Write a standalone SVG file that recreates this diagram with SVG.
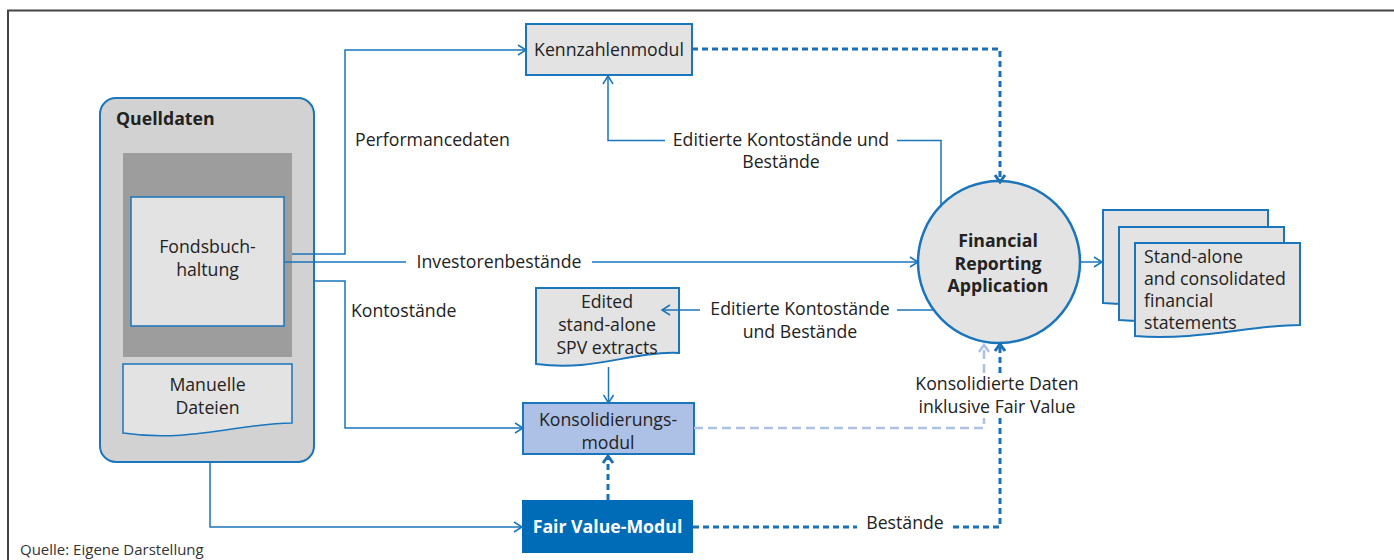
<svg xmlns="http://www.w3.org/2000/svg" width="1394" height="560" viewBox="0 0 1394 560">
<style>
text{font-family:"Open Sans","Liberation Sans",sans-serif;font-size:17.7px;fill:#222}
.b{font-weight:bold}
.c{text-anchor:middle}
.box{fill:#e3e3e3;stroke:#1a75bb;stroke-width:2}
.ln{fill:none;stroke:#1a75bb;stroke-width:1.5}
.dot{fill:none;stroke:#1a6fb5;stroke-width:3;stroke-dasharray:6 4}
.lt{fill:none;stroke:#adc1e6;stroke-width:2.5;stroke-dasharray:9 5}
.mk{fill:none;stroke-dasharray:none;stroke-linejoin:miter}
</style>
<defs>
<marker id="a" markerUnits="userSpaceOnUse" markerWidth="12" markerHeight="12" refX="10" refY="6" orient="auto"><path class="mk" d="M2,1 L10,6 L2,11" stroke="#1a75bb" stroke-width="1.5"/></marker>
<marker id="ad" markerUnits="userSpaceOnUse" markerWidth="14" markerHeight="14" refX="10" refY="7" orient="auto"><path class="mk" d="M3,2 L10,7 L3,12" stroke="#1a6fb5" stroke-width="3"/></marker>
<marker id="al" markerUnits="userSpaceOnUse" markerWidth="14" markerHeight="14" refX="10" refY="7" orient="auto"><path class="mk" d="M3,2 L10,7 L3,12" stroke="#adc1e6" stroke-width="2.5"/></marker>
</defs>
<rect width="1394" height="560" fill="#fff"/>
<g id="frame" stroke="#444" stroke-width="2" fill="none"><path d="M8,560 V10.5 H1394"/></g>

<g id="labels">
<text x="355" y="146">Performancedaten</text>
<text x="351" y="317">Kontostände</text>
<text x="499" y="268" class="c">Investorenbestände</text>
<text x="781" y="146" class="c">Editierte Kontostände und</text>
<text x="781" y="168" class="c">Bestände</text>
<text x="800" y="315" class="c">Editierte Kontostände</text>
<text x="800" y="338" class="c">und Bestände</text>
<text x="997" y="390" class="c">Konsolidierte Daten</text>
<text x="997" y="413" class="c">inklusive Fair Value</text>
<text x="905" y="529" class="c">Bestände</text>
<text x="20" y="555" style="font-size:15px;fill:#333">Quelle: Eigene Darstellung</text>
</g>

<g id="quelldaten">
<rect x="100" y="98" width="214" height="364" rx="16" fill="#d2d2d2" stroke="#1a75bb" stroke-width="2"/>
<text x="116" y="125" class="b">Quelldaten</text>
<rect x="123" y="153" width="169" height="204" fill="#9d9d9d"/>
</g>
<g id="fondsbuchhaltung">
<rect class="box" x="131" y="197" width="153" height="129" style="stroke-width:1.5"/>
<text x="207.5" y="253" class="c">Fondsbuch-</text>
<text x="207.5" y="276" class="c">haltung</text>
</g>
<g id="manuelle">
<path class="box" style="stroke-width:1.5" d="M123,364 H292 V423 C240,423 190,443 123,433 Z"/>
<text x="207.5" y="391" class="c">Manuelle</text>
<text x="207.5" y="414" class="c">Dateien</text>
</g>
<g id="kennzahlenmodul">
<rect class="box" x="526" y="24" width="166" height="51"/>
<text x="609" y="56" class="c">Kennzahlenmodul</text>
</g>
<g id="edited">
<path class="box" d="M536,288 H679 V353 C630,351 595,372 536,364 Z"/>
<text x="607" y="308" class="c">Edited</text>
<text x="607" y="331" class="c">stand-alone</text>
<text x="607" y="354" class="c">SPV extracts</text>
</g>
<g id="konsolidierungsmodul">
<rect x="523" y="403" width="171" height="51" fill="#adc1e6" stroke="#1a75bb" stroke-width="2"/>
<text x="608" y="426" class="c">Konsolidierungs-</text>
<text x="608" y="449" class="c">modul</text>
</g>
<g id="fairvalue">
<rect x="522" y="500" width="171" height="53" fill="#006cb7"/>
<text x="607.5" y="533" class="c b" style="fill:#fff">Fair Value-Modul</text>
</g>
<g id="fra">
<circle cx="999" cy="262" r="81" fill="#e3e3e3" stroke="#1a75bb" stroke-width="2.5"/>
<text x="998" y="247" class="c b">Financial</text>
<text x="998" y="270" class="c b">Reporting</text>
<text x="998" y="292" class="c b">Application</text>
</g>
<g id="statements">
<path class="box" d="M1103,210 H1268 V292 C1220,292 1165,308 1103,303 Z"/>
<path class="box" d="M1119,227 H1284 V309 C1236,309 1181,325 1119,320 Z"/>
<path class="box" d="M1135,243 H1300 V325 C1252,325 1197,341 1135,336 Z"/>
<text x="1144" y="263">Stand-alone</text>
<text x="1144" y="285">and consolidated</text>
<text x="1144" y="307">financial</text>
<text x="1144" y="329">statements</text>
</g>

<g id="connectors">
<path class="ln" d="M292,254 H345 V50 H526" marker-end="url(#a)"/>
<path class="ln" d="M284,262 H406"/>
<path class="ln" d="M592,262 H918" marker-end="url(#a)"/>
<path class="ln" d="M315,281 H345 V428 H523" marker-end="url(#a)"/>
<path class="ln" d="M210,463 V527 H522" marker-end="url(#a)"/>
<path class="ln" d="M941,207 V140.5 H897"/>
<path class="ln" d="M665,140.5 H608 V76" marker-end="url(#a)"/>
<path class="ln" d="M935,310 H897"/>
<path class="ln" d="M700,310 H662" marker-end="url(#a)"/>
<path class="ln" d="M608.5,367 V403" marker-end="url(#a)"/>
<path class="ln" d="M1081,262 H1102" marker-end="url(#a)"/>
<path class="dot" d="M692,49 H1000 V182" marker-end="url(#ad)"/>
<path class="dot" d="M608,500 V456" marker-end="url(#ad)"/>
<path class="dot" d="M693,527 H857"/>
<path class="dot" d="M953,527 H1000 V418"/>
<path class="dot" d="M1000,373 V344" marker-end="url(#ad)"/>
<path class="lt" d="M694,428 H984 V418"/>
<path class="lt" d="M984,373 V345" marker-end="url(#al)"/>
</g>
</svg>
